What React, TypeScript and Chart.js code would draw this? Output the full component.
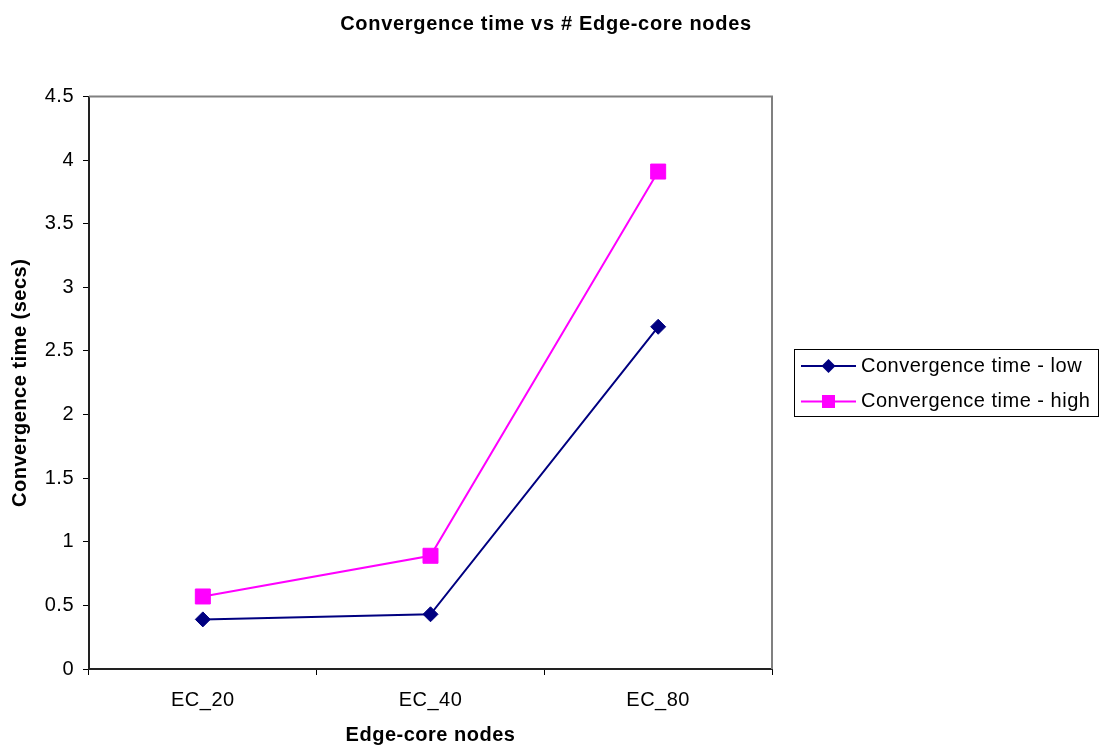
import { useEffect, useRef } from 'react';
import { Chart, registerables } from 'chart.js';

Chart.register(...registerables);

// Chart data
const categories = ['EC_20', 'EC_40', 'EC_80'];
const lowSeries = [0.39, 0.43, 2.69];
const highSeries = [0.57, 0.89, 3.91];
const seriesNames = ['Convergence time - low', 'Convergence time - high'];
const chartTitle = 'Convergence time vs # Edge-core nodes';
const xAxisTitle = 'Edge-core nodes';
const yAxisTitle = 'Convergence time (secs)';
const yMin = 0;
const yMax = 4.5;
const yStep = 0.5;

const FONT = '"Liberation Sans", Arial, Helvetica, sans-serif';
const NAVY = '#000080';
const MAGENTA = '#FF00FF';
const WIDTH = 1099;
const HEIGHT = 749;
const SPACING = '0.5px';

// Slightly wider text run, as in the classic office chart look
const letterSpacingPlugin = {
  id: 'letterSpacing',
  beforeUpdate(chart: any) {
    chart.ctx.letterSpacing = SPACING;
  },
  beforeDraw(chart: any) {
    chart.ctx.letterSpacing = SPACING;
  },
};

// Title centred over the whole canvas
const pageTitle = {
  id: 'pageTitle',
  afterDraw(chart: any) {
    const { ctx } = chart;
    ctx.save();
    ctx.letterSpacing = '0.7px';
    ctx.fillStyle = '#000';
    ctx.font = `bold 20px ${FONT}`;
    ctx.textAlign = 'center';
    ctx.textBaseline = 'middle';
    ctx.fillText(chartTitle, 546, 24);
    ctx.restore();
  },
};

// Gray frame on the top and right of the plot area
const plotFrame = {
  id: 'plotFrame',
  beforeDatasetsDraw(chart: any) {
    const { ctx, chartArea } = chart;
    ctx.save();
    ctx.strokeStyle = '#808080';
    ctx.lineWidth = 2;
    ctx.beginPath();
    ctx.moveTo(chartArea.left, chartArea.top);
    ctx.lineTo(chartArea.right, chartArea.top);
    ctx.lineTo(chartArea.right, chartArea.bottom);
    ctx.stroke();
    ctx.restore();
  },
};

function drawDiamond(ctx: CanvasRenderingContext2D, x: number, y: number, r: number) {
  ctx.beginPath();
  ctx.moveTo(x - r, y);
  ctx.lineTo(x, y - r);
  ctx.lineTo(x + r, y);
  ctx.lineTo(x, y + r);
  ctx.closePath();
  ctx.fill();
}

// Boxed legend to the right of the plot
const boxedLegend = {
  id: 'boxedLegend',
  afterDraw(chart: any) {
    const { ctx, chartArea } = chart;
    const left = Math.round(chartArea.right) + 22.5;
    const top = 349.5;
    const right = WIDTH - 0.5;
    const bottom = 416.5;
    ctx.save();
    ctx.letterSpacing = SPACING;
    ctx.strokeStyle = '#000';
    ctx.lineWidth = 1;
    ctx.strokeRect(left, top, right - left, bottom - top);
    const rows = [
      { name: seriesNames[0], color: NAVY, shape: 'diamond' },
      { name: seriesNames[1], color: MAGENTA, shape: 'square' },
    ];
    rows.forEach((row, i) => {
      const cy = 366 + i * 35.5;
      const x0 = left + 6.5;
      const x1 = left + 61.5;
      const mx = (x0 + x1) / 2;
      ctx.strokeStyle = row.color;
      ctx.fillStyle = row.color;
      ctx.lineWidth = 2;
      ctx.beginPath();
      ctx.moveTo(x0, cy);
      ctx.lineTo(x1, cy);
      ctx.stroke();
      if (row.shape === 'diamond') {
        drawDiamond(ctx, mx, cy, 7);
      } else {
        ctx.fillRect(mx - 6.5, cy - 6.5, 13, 13);
      }
      ctx.fillStyle = '#000';
      ctx.font = `20px ${FONT}`;
      ctx.textAlign = 'left';
      ctx.textBaseline = 'middle';
      ctx.fillText(row.name, x1 + 5, cy);
    });
    ctx.restore();
  },
};

export default function App() {
  const canvasRef = useRef<HTMLCanvasElement | null>(null);

  useEffect(() => {
    document.body.style.margin = '0';
    const canvas = canvasRef.current;
    if (!canvas) return;

    const chart = new Chart(canvas, {
      type: 'line',
      data: {
        labels: categories,
        datasets: [
          {
            label: seriesNames[0],
            data: lowSeries,
            borderColor: NAVY,
            backgroundColor: NAVY,
            borderWidth: 2,
            pointStyle: 'rectRot',
            pointRadius: 7.5,
            pointHoverRadius: 7.5,
            pointBorderWidth: 1,
            pointBackgroundColor: NAVY,
            pointBorderColor: NAVY,
            tension: 0,
          },
          {
            label: seriesNames[1],
            data: highSeries,
            borderColor: MAGENTA,
            backgroundColor: MAGENTA,
            borderWidth: 2,
            pointStyle: 'rect',
            pointRadius: 10.6,
            pointHoverRadius: 10.6,
            pointBorderWidth: 1,
            pointBackgroundColor: MAGENTA,
            pointBorderColor: MAGENTA,
            tension: 0,
          },
        ],
      },
      options: {
        responsive: false,
        animation: false,
        devicePixelRatio: 1,
        layout: {
          padding: { left: 0, right: 327, top: 96.5, bottom: 0 },
        },
        plugins: {
          legend: { display: false },
          tooltip: { enabled: false },
          title: { display: false },
        },
        scales: {
          x: {
            type: 'category',
            offset: true,
            grid: {
              offset: true,
              drawOnChartArea: false,
              drawTicks: true,
              tickLength: 6,
              color: '#000',
              lineWidth: 1,
            },
            border: { display: true, color: '#222', width: 2 },
            ticks: {
              color: '#000',
              font: { family: FONT, size: 20, lineHeight: 1.2 },
              padding: 13,
              maxRotation: 0,
              autoSkip: false,
            },
            title: {
              display: true,
              text: xAxisTitle,
              color: '#000',
              font: { family: FONT, size: 20, weight: 'bold', lineHeight: 1.2 },
              padding: { top: 0, bottom: 2 },
            },
            afterFit(scale: any) {
              scale.height = 80;
            },
          },
          y: {
            min: yMin,
            max: yMax,
            grid: {
              drawOnChartArea: false,
              drawTicks: true,
              tickLength: 6,
              color: '#000',
              lineWidth: 1,
            },
            border: { display: true, color: '#222', width: 2 },
            ticks: {
              stepSize: yStep,
              color: '#000',
              font: { family: FONT, size: 20, lineHeight: 1.2 },
              padding: 9,
              callback: (value: any) => String(Number(value)),
            },
            title: {
              display: true,
              text: yAxisTitle,
              color: '#000',
              font: { family: FONT, size: 20, weight: 'bold', lineHeight: 1.2 },
              padding: { top: 8.5, bottom: 0 },
            },
            afterFit(scale: any) {
              scale.width = 89;
            },
          },
        },
      },
      plugins: [letterSpacingPlugin, plotFrame, boxedLegend, pageTitle],
    } as any);

    return () => {
      chart.destroy();
    };
  }, []);

  return (
    <canvas
      ref={canvasRef}
      width={WIDTH}
      height={HEIGHT}
      style={{ display: 'block', width: WIDTH, height: HEIGHT }}
    />
  );
}
